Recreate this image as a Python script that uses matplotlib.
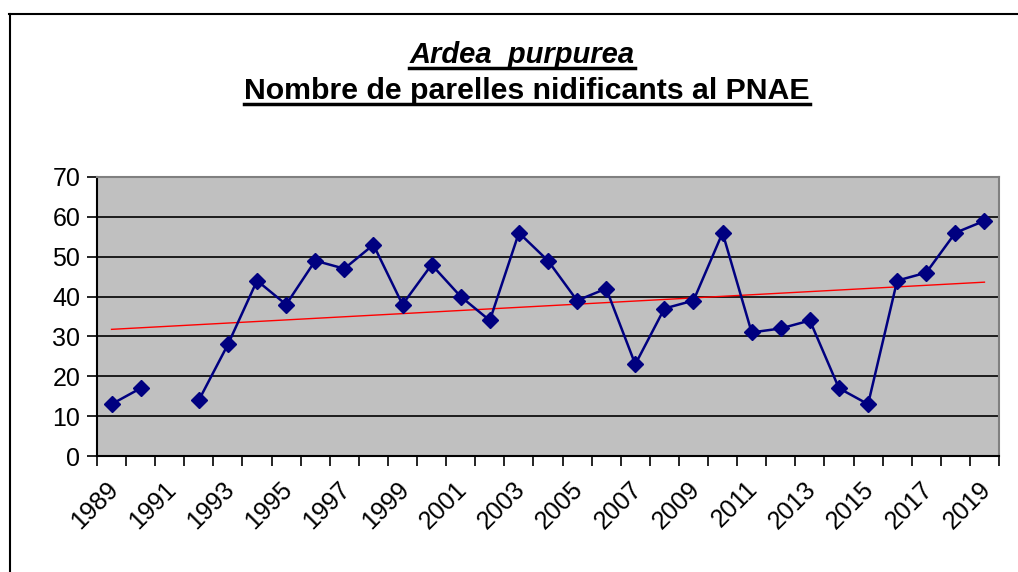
import numpy as np
import matplotlib
matplotlib.use("Agg")
import matplotlib.pyplot as plt
import matplotlib.transforms as mtransforms
from matplotlib.lines import Line2D

plt.rcParams['font.family'] = ['Liberation Sans', 'DejaVu Sans']

years = list(range(1989, 2020))
pairs = [13, 17, np.nan, 14, 28, 44, 38, 49, 47, 53, 38, 48, 40, 34, 56, 49,
         39, 42, 23, 37, 39, 56, 31, 32, 34, 17, 13, 44, 46, 56, 59]
title1 = "Ardea  purpurea"
title2 = "Nombre de parelles nidificants al PNAE"
yticks = [0, 10, 20, 30, 40, 50, 60, 70]

W, H = 1018, 572
fig = plt.figure(figsize=(W / 100, H / 100), dpi=100)
ax = fig.add_axes([97 / W, 1 - 456 / H, (999 - 97) / W, (456 - 177) / H])
ax.set_facecolor('#C0C0C0')

x = np.arange(len(years))
y = np.array(pairs, dtype=float)
ax.plot(x, y, color='#000080', lw=1.8, marker='D', ms=8.5, mfc='#000080',
        mec='#000080', zorder=3)

# linear trend
m = ~np.isnan(y)
c = np.polyfit(x[m], y[m], 1)
xt = np.array([x[0], x[-1]])
ax.plot(xt, np.polyval(c, xt), color='#FF0000', lw=1.0, zorder=2)

ax.set_xlim(-0.5, len(years) - 0.5)
ax.set_ylim(0, 70)
ax.set_yticks(yticks)
ax.set_yticklabels([str(v) for v in yticks])
ax.yaxis.grid(True, color='black', lw=1.2)
ax.set_axisbelow(True)

ax.set_xticks(x[::2])
ax.set_xticklabels([str(v) for v in years[::2]], rotation=45, ha='right',
                   va='top', rotation_mode='anchor')
ax.set_xticks(np.arange(-0.5, len(years), 1), minor=True)
ax.tick_params(axis='x', which='major', length=0, pad=15, labelsize=18)
ax.tick_params(axis='x', which='minor', length=7, width=1.2, color='black')
ax.tick_params(axis='y', length=7, width=1.2, color='black', labelsize=18, pad=5)
off = mtransforms.ScaledTranslation(-6 / 100, 0, fig.dpi_scale_trans)
for lab in ax.get_xticklabels():
    lab.set_transform(lab.get_transform() + off)

for s in ['left', 'bottom']:
    ax.spines[s].set_color('black')
    ax.spines[s].set_linewidth(1.5)
for s in ['top', 'right']:
    ax.spines[s].set_color('#808080')
    ax.spines[s].set_linewidth(1.5)

# outer frame (left and top edges visible)
fig.add_artist(Line2D([9.5 / W, 9.5 / W], [0, 1 - 14 / H], color='black', lw=1.5,
                      transform=fig.transFigure))
fig.add_artist(Line2D([9 / W, 1], [1 - 14 / H, 1 - 14 / H], color='black', lw=1.5,
                      transform=fig.transFigure))

t1 = fig.text(522 / W, 1 - 55 / H, title1, fontsize=21, fontweight='bold',
              fontstyle='italic', ha='center', va='center')
t2 = fig.text(527 / W, 1 - 91 / H, title2, fontsize=21.8, fontweight='bold',
              ha='center', va='center')

fig.canvas.draw()
r = fig.canvas.get_renderer()
for t in (t1, t2):
    bb = t.get_window_extent(r)
    yl = bb.y0 + 1
    fig.add_artist(Line2D([bb.x0 / W, bb.x1 / W], [yl / H, yl / H], color='black',
                          lw=2.5, transform=fig.transFigure))

fig.savefig('out.png', dpi=100)
